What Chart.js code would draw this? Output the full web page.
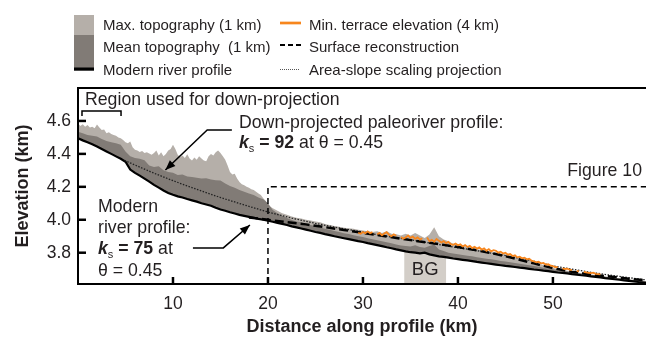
<!DOCTYPE html>
<html><head><meta charset="utf-8">
<script src="https://cdn.jsdelivr.net/npm/chart.js@4/dist/chart.umd.min.js"></script>
<style>html,body{margin:0;padding:0;background:#fff;overflow:hidden}canvas{display:block}</style>
</head><body>
<canvas id="c" width="646" height="338"></canvas>
<script>
// ---------- data (km) ----------
const distance = [
 0,0.5,1,1.5,2,2.5,3,3.5,4,4.5,
 5,5.5,6,6.5,7,7.5,8,8.5,9,9.5,
 10,10.5,11,11.5,12,12.5,13,13.5,14,14.5,
 15,15.5,16,16.5,17,17.5,18,18.5,19,19.5,
 20,20.5,21,21.5,22,22.5,23,23.5,24,24.5,
 25,25.5,26,26.5,27,27.5,28,28.5,29,29.5,
 30,30.5,31,31.5,32,32.5,33,33.5,34,34.5,
 35,35.5,36,36.5,37,37.5,38,38.5,39,39.5,
 40,40.5,41,41.5,42,42.5,43,43.5,44,44.5,
 45,45.5,46,46.5,47,47.5,48,48.5,49,49.5,
 50,50.5,51,51.5,52,52.5,53,53.5,54,54.5,
 55,55.5,56,56.5,57,57.5,58,58.5,59,59.5,
 59.8];
const riverProfile = [
 4.495,4.482,4.470,4.458,4.445,4.430,4.415,4.400,4.385,4.370,
 4.352,4.305,4.285,4.268,4.250,4.232,4.212,4.195,4.178,4.163,
 4.152,4.142,4.135,4.126,4.118,4.110,4.100,4.093,4.085,4.073,
 4.062,4.055,4.046,4.038,4.030,4.024,4.018,4.012,4.005,4.000,
 3.994,3.988,3.981,3.975,3.968,3.960,3.954,3.947,3.940,3.933,
 3.926,3.920,3.913,3.907,3.900,3.894,3.888,3.882,3.876,3.870,
 3.865,3.858,3.852,3.846,3.840,3.833,3.827,3.820,3.814,3.808,
 3.803,3.800,3.796,3.800,3.790,3.784,3.778,3.775,3.770,3.765,
 3.761,3.757,3.753,3.749,3.744,3.740,3.736,3.732,3.728,3.724,
 3.720,3.717,3.713,3.709,3.706,3.702,3.698,3.695,3.691,3.688,
 3.684,3.680,3.677,3.674,3.670,3.667,3.663,3.660,3.656,3.653,
 3.650,3.646,3.643,3.639,3.636,3.632,3.629,3.626,3.622,3.619,
 3.617];
const meanTopography = [
 4.535,4.525,4.515,4.510,4.505,4.490,4.478,4.470,4.465,4.455,
 4.415,4.385,4.375,4.370,4.362,4.330,4.320,4.325,4.300,4.290,
 4.285,4.272,4.275,4.262,4.260,4.255,4.250,4.252,4.245,4.240,
 4.238,4.220,4.205,4.195,4.180,4.170,4.160,4.150,4.135,4.125,
 4.100,4.060,4.040,4.025,4.010,3.998,3.990,3.985,3.975,3.968,
 3.960,3.953,3.945,3.940,3.932,3.925,3.918,3.913,3.906,3.900,
 3.895,3.888,3.882,3.876,3.870,3.864,3.858,3.850,3.844,3.840,
 3.838,3.845,3.835,3.830,3.840,3.850,3.820,3.810,3.800,3.795,
 3.790,3.786,3.782,3.778,3.773,3.768,3.764,3.760,3.755,3.750,
 3.746,3.742,3.737,3.733,3.728,3.724,3.719,3.714,3.709,3.704,
 3.700,3.695,3.690,3.686,3.682,3.678,3.674,3.670,3.666,3.662,
 3.658,3.654,3.650,3.646,3.643,3.639,3.636,3.633,3.629,3.626,
 3.624];
const maxDistance = [
 0,0.25,0.5,0.75,1,1.25,1.5,1.75,2,2.25,2.5,2.75,3,3.25,3.5,3.75,4,4.25,4.5,4.75,
 5,5.25,5.5,5.75,6,6.25,6.5,6.75,7,7.25,7.5,7.75,8,8.25,8.5,8.75,9,9.25,9.5,9.75,
 10,10.25,10.5,10.75,11,11.25,11.5,11.75,12,12.25,12.5,12.75,13,13.25,13.5,13.75,14,14.25,14.5,14.75,
 15,15.25,15.5,15.75,16,16.25,16.5,16.75,17,17.25,17.5,17.75,18,18.25,18.5,18.75,19,19.25,19.5,19.75,
 20,20.5,21,21.5,22,22.5,23,23.5,24,24.5,
 25,25.5,26,26.5,27,27.5,28,28.5,29,29.5,
 30,30.5,31,31.5,32,32.5,33,33.5,34,34.5,
 35,35.5,36,36.5,37,37.5,38,38.5,39,39.5,
 40,40.5,41,41.5,42,42.5,43,43.5,44,44.5,
 45,45.5,46,46.5,47,47.5,48,48.5,49,49.5,
 50,50.5,51,51.5,52,52.5,53,53.5,54,54.5,
 55,55.5,56,56.5,57,57.5,58,58.5,59,59.5,
 59.8];
const maxTopography = [
 4.585,4.570,4.580,4.565,4.575,4.560,4.565,4.555,4.578,4.560,4.545,4.548,4.525,4.532,4.520,4.515,4.510,4.500,4.495,4.485,
 4.470,4.465,4.475,4.440,4.425,4.420,4.412,4.418,4.405,4.410,4.402,4.395,4.405,4.420,4.390,4.410,4.385,4.400,4.420,4.430,
 4.455,4.430,4.395,4.380,4.390,4.375,4.398,4.372,4.360,4.378,4.365,4.385,4.372,4.360,4.355,4.385,4.400,4.390,4.410,4.420,
 4.405,4.385,4.365,4.330,4.290,4.275,4.280,4.250,4.230,4.215,4.210,4.200,4.195,4.185,4.180,4.170,4.160,4.150,4.130,4.115,
 4.090,4.070,4.055,4.040,4.030,4.020,4.012,4.008,4.000,3.995,
 3.990,3.985,3.975,3.968,3.962,3.958,3.952,3.948,3.945,3.940,
 3.935,3.930,3.925,3.930,3.920,3.930,3.915,3.912,3.905,3.915,
 3.905,3.920,3.905,3.890,3.910,3.955,3.900,3.880,3.870,3.855,
 3.845,3.842,3.835,3.830,3.822,3.815,3.810,3.805,3.800,3.795,
 3.790,3.784,3.778,3.770,3.762,3.755,3.745,3.735,3.725,3.715,
 3.708,3.700,3.695,3.690,3.685,3.680,3.676,3.672,3.668,3.664,
 3.660,3.656,3.652,3.648,3.645,3.642,3.639,3.636,3.633,3.630,
 3.628];
const projectionDist = [4.9,7.7,10,12.5,15,17.5,20,22.5,25,27.5,30,32.5,35,37.5,40,42.5,45,47.5,50,52.5,55,57.5,59.8];
const projectionElev = [4.360,4.290,4.237,4.185,4.135,4.090,4.047,4.010,3.978,3.950,3.925,3.900,3.878,3.855,3.830,3.808,3.782,3.755,3.720,3.695,3.672,3.652,3.635];
const surfaceDist = [18,20,22,24,26,28,30,32,34,36,38,40,42,44,46,48,50,52,54,56,58,59.8];
const surfaceElev = [4.014,4.000,3.985,3.972,3.955,3.938,3.920,3.903,3.885,3.868,3.852,3.834,3.815,3.792,3.765,3.735,3.706,3.685,3.668,3.655,3.642,3.632];
const terraceDist = [
 29.5,29.75,30,30.25,30.5,30.75,31,31.25,31.5,31.75,32,32.25,32.5,32.75,33,33.25,33.5,33.75,34,34.25,
 34.5,34.75,35,35.25,35.5,35.75,36,36.25,36.5,36.75,37,37.25,37.5,37.75,38,38.25,38.5,38.75,39,39.25,
 39.5,39.75,40,40.25,40.5,40.75,41,41.25,41.5,41.75,42,42.25,42.5,42.75,43,43.25,43.5,43.75,44,44.25,
 44.5,44.75,45,45.25,45.5,45.75,46,46.25,46.5,46.75,47,47.25,47.5,47.75,48,48.25,48.5,48.75,49,49.25,
 49.5,49.75,50,50.25,50.5,50.75,51,51.25,51.5,51.75,52,52.25,52.5,52.75,53,53.25,53.5,53.75,54,54.25,
 54.5,54.75,55];
const terraceElev = [
 3.921,3.915,3.926,3.918,3.930,3.919,3.925,null,3.912,3.920,3.905,3.916,3.925,3.908,3.900,3.912,3.903,null,3.895,3.885,
 3.893,3.905,3.890,3.898,3.884,3.893,3.880,3.888,null,3.892,3.870,3.878,3.866,3.883,3.872,3.862,3.870,3.858,3.866,3.852,
 3.848,3.856,3.845,3.851,3.838,3.846,3.835,3.842,3.828,3.836,3.825,3.832,3.818,3.826,3.812,3.822,3.808,3.815,3.812,3.800,
 3.806,3.795,3.800,3.788,3.792,3.780,3.784,3.772,3.776,3.766,3.770,3.760,3.764,3.752,3.748,3.742,3.745,3.735,3.738,3.728,
 3.730,3.722,3.718,3.712,3.714,null,3.705,3.701,3.703,3.697,3.694,null,3.690,3.686,null,3.684,3.680,3.678,3.676,3.679,
 3.672,3.670,3.668];
const xTicks = [10,20,30,40,50];
const yTicks = [3.8,4.0,4.2,4.4,4.6];
const xRange = [0,59.8];
const yRange = [3.61,4.80];
const bgRange = [34.35,38.75], bgTop = 3.805;
const figBox = {x:20, y:4.2};

// ---------- styles ----------
const FONT = '"Liberation Sans", Arial, Helvetica, sans-serif';
const TXT = '#231f20';
const colMax = '#b5afa9', colMean = '#817b76', colOrange = '#f7861d';

function pts(xs, ys){ return xs.map((v,i)=>({x:v, y:ys[i]})); }

const overlay = {
  id:'overlay',
  beforeDatasetsDraw(chart){
    const {ctx, chartArea:a, scales:{x,y}} = chart;
    ctx.save();
    const x0 = x.getPixelForValue(bgRange[0]), x1 = x.getPixelForValue(bgRange[1]);
    const yt = y.getPixelForValue(bgTop);
    ctx.fillStyle = '#d3cec8';
    ctx.fillRect(x0, yt, x1-x0, a.bottom-yt);
    ctx.fillStyle = TXT; ctx.font = '18.5px '+FONT; ctx.textAlign='center'; ctx.textBaseline='alphabetic';
    ctx.fillText('BG', (x0+x1)/2, a.bottom-9);
    ctx.restore();
  },
  afterDraw(chart){
    const {ctx, chartArea:a, scales:{x,y}} = chart;
    ctx.save();
    ctx.strokeStyle='#000'; ctx.lineWidth=2;
    ctx.beginPath(); ctx.moveTo(a.left-1, a.top); ctx.lineTo(a.right, a.top); ctx.stroke();
    ctx.lineWidth=2.5;
    yTicks.forEach(v=>{const p=y.getPixelForValue(v); ctx.beginPath(); ctx.moveTo(a.left, p); ctx.lineTo(a.left+8, p); ctx.stroke();});
    xTicks.forEach(v=>{const p=x.getPixelForValue(v); ctx.beginPath(); ctx.moveTo(p, a.bottom); ctx.lineTo(p, a.bottom-7); ctx.stroke();});
    ctx.lineWidth=1.5; ctx.setLineDash([6,4]);
    const fx = x.getPixelForValue(figBox.x), fy = y.getPixelForValue(figBox.y);
    ctx.beginPath(); ctx.moveTo(fx, a.bottom); ctx.lineTo(fx, fy); ctx.lineTo(a.right, fy); ctx.stroke();
    ctx.setLineDash([]);
    ctx.lineWidth=1.5;
    const bx0=x.getPixelForValue(0.42), bx1=x.getPixelForValue(4.53), by0=y.getPixelForValue(4.66), by1=y.getPixelForValue(4.63);
    ctx.beginPath(); ctx.moveTo(bx0,by1); ctx.lineTo(bx0,by0); ctx.lineTo(bx1,by0); ctx.lineTo(bx1,by1); ctx.stroke();
    function arrow(P){
      const q = P.map(p=>[x.getPixelForValue(p[0]), y.getPixelForValue(p[1])]);
      ctx.lineWidth=1.5; ctx.beginPath(); ctx.moveTo(q[0][0],q[0][1]);
      for(let i=1;i<q.length;i++) ctx.lineTo(q[i][0],q[i][1]);
      ctx.stroke();
      const [ex,ey]=q[q.length-1], [sx,sy]=q[q.length-2];
      const ang=Math.atan2(ey-sy, ex-sx), L=10, W=4;
      ctx.beginPath(); ctx.moveTo(ex,ey);
      ctx.lineTo(ex-L*Math.cos(ang)+W*Math.sin(ang), ey-L*Math.sin(ang)-W*Math.cos(ang));
      ctx.lineTo(ex-L*Math.cos(ang)-W*Math.sin(ang), ey-L*Math.sin(ang)+W*Math.cos(ang));
      ctx.closePath(); ctx.fillStyle='#000'; ctx.fill();
    }
    arrow([[16.2,4.545],[13.6,4.545],[9.2,4.302]]);
    arrow([[12.1,3.829],[15.3,3.829],[18.1,3.968]]);
    ctx.fillStyle=TXT; ctx.textAlign='left'; ctx.textBaseline='alphabetic';
    const F = 17.7;
    ctx.font = F+'px '+FONT;
    ctx.fillText('Region used for down-projection', 85, 105);
    ctx.fillText('Down-projected paleoriver profile:', 239, 128);
    ctx.textAlign='right'; ctx.fillText('Figure 10', 642, 175.5); ctx.textAlign='left';
    ctx.fillText('Modern', 98, 211.5);
    ctx.fillText('river profile:', 98, 233);
    ctx.fillText('\u03b8 = 0.45', 98, 275.5);
    function ks(xp, yp, val, rest){
      ctx.font='italic bold '+F+'px '+FONT; ctx.fillText('k', xp, yp); xp += ctx.measureText('k').width;
      ctx.font='11px '+FONT; ctx.fillText('s', xp, yp+4); xp += ctx.measureText('s').width;
      ctx.font='bold '+F+'px '+FONT; const t=' = '+val; ctx.fillText(t, xp, yp); xp += ctx.measureText(t).width;
      ctx.font=F+'px '+FONT; ctx.fillText(rest, xp, yp);
    }
    ks(239, 148, '92', ' at \u03b8 = 0.45');
    ks(98, 254, '75', ' at');
    ctx.fillStyle=colMax; ctx.fillRect(74,15,20,20);
    ctx.fillStyle=colMean; ctx.fillRect(74,35,20,33);
    ctx.fillStyle='#000'; ctx.fillRect(74,67.5,20,3.2);
    ctx.fillStyle=TXT; ctx.font='15px '+FONT;
    ctx.fillText('Max. topography (1 km)', 103, 29.5);
    ctx.fillText('Mean topography  (1 km)', 103, 51.5);
    ctx.fillText('Modern river profile', 103, 75);
    ctx.fillText('Min. terrace elevation (4 km)', 309, 29.5);
    ctx.fillText('Surface reconstruction', 309, 51.5);
    ctx.fillText('Area-slope scaling projection', 309, 75);
    ctx.strokeStyle=colOrange; ctx.lineWidth=2.7; ctx.beginPath(); ctx.moveTo(280,23); ctx.lineTo(301,23); ctx.stroke();
    ctx.strokeStyle='#000'; ctx.lineWidth=2; ctx.setLineDash([5,3]); ctx.beginPath(); ctx.moveTo(280,45); ctx.lineTo(301,45); ctx.stroke();
    ctx.strokeStyle='#555'; ctx.lineWidth=1; ctx.setLineDash([1,1]); ctx.beginPath(); ctx.moveTo(280,69.5); ctx.lineTo(300,69.5); ctx.stroke();
    ctx.restore();
  }
};

const base = {pointRadius:0, tension:0, spanGaps:false};
new Chart(document.getElementById('c'), {
  type:'line',
  data:{datasets:[
    {...base, label:'Min. terrace elevation (4 km)', data:pts(terraceDist, terraceElev), borderColor:colOrange, borderWidth:1.8, fill:false},
    {...base, label:'Surface reconstruction', data:pts(surfaceDist, surfaceElev), borderColor:'#000', borderWidth:2.5, borderDash:[9,4], fill:false},
    {...base, label:'Area-slope scaling projection', data:pts(projectionDist, projectionElev), borderColor:'#222', borderWidth:1.3, borderDash:[1.5,1.5], fill:false},
    {...base, label:'Modern river profile', data:pts(distance, riverProfile), borderColor:'#000', borderWidth:2.2, fill:false},
    {...base, label:'Mean topography (1 km)', data:pts(distance, meanTopography), borderWidth:0, borderColor:'rgba(0,0,0,0)', backgroundColor:colMean, fill:3},
    {...base, label:'Max. topography (1 km)', data:pts(maxDistance, maxTopography), borderWidth:0, borderColor:'rgba(0,0,0,0)', backgroundColor:colMax, fill:3}
  ]},
  options:{
    responsive:false, animation:false, devicePixelRatio:1,
    layout:{padding:{top:88,left:0,right:0,bottom:0}},
    plugins:{legend:{display:false}, tooltip:{enabled:false}},
    scales:{
      x:{type:'linear', min:xRange[0], max:xRange[1],
        grid:{display:false, drawTicks:false}, border:{display:true, width:2, color:'#000', z:1},
        afterBuildTicks:s=>{s.ticks = xTicks.map(v=>({value:v}));},
        afterFit:s=>{s.height=54;},
        ticks:{padding:10, color:TXT, font:{family:FONT, size:17.5}, maxRotation:0, callback:v=>String(v)},
        title:{display:true, text:'Distance along profile (km)', color:TXT, font:{family:FONT, size:18, weight:'bold'}, padding:{top:0,bottom:0}}},
      y:{type:'linear', min:yRange[0], max:yRange[1],
        grid:{display:false, drawTicks:false}, border:{display:true, width:2, color:'#000', z:1},
        afterBuildTicks:s=>{s.ticks = yTicks.map(v=>({value:v}));},
        afterFit:s=>{s.width=78;},
        ticks:{padding:7, color:TXT, font:{family:FONT, size:17.5}, callback:v=>Number(v).toFixed(1)},
        title:{display:true, text:'Elevation (km)', color:TXT, font:{family:FONT, size:18, weight:'bold'}, padding:{top:12,bottom:0}}}
    }
  },
  plugins:[overlay]
});
</script>
</body></html>
